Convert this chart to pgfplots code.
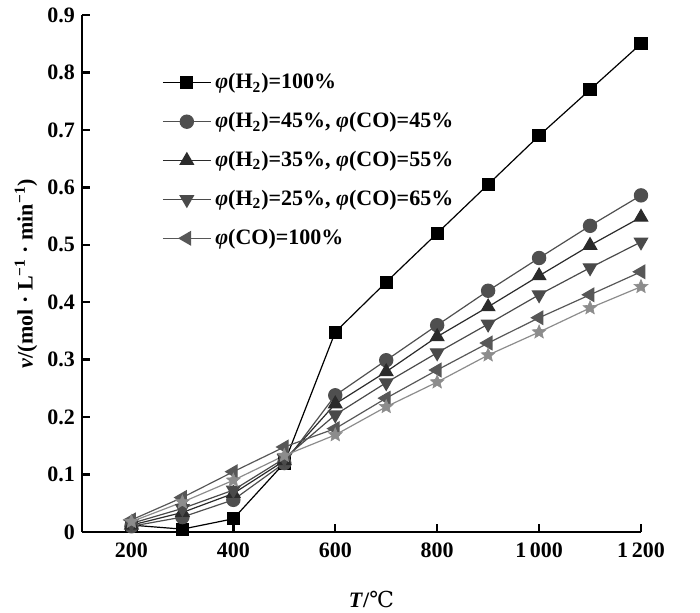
\documentclass[border=0pt]{standalone}
\usepackage{fontspec}
\setmainfont{Liberation Serif}
\newfontfamily\dejavuserif{DejaVu Serif}
\usepackage{pgfplots}
\pgfplotsset{compat=1.18}
\definecolor{cA}{HTML}{000000}
\definecolor{cB}{HTML}{4F4F4F}
\definecolor{cC}{HTML}{2B2B2B}
\definecolor{cD}{HTML}{4A4A4A}
\definecolor{cE}{HTML}{575757}
\definecolor{cF}{HTML}{8C8C8C}
\pgfdeclareplotmark{fstar}{%
  \pgfpathmoveto{\pgfpointpolar{90}{\pgfplotmarksize}}%
  \pgfpathlineto{\pgfpointpolar{126}{0.45\pgfplotmarksize}}%
  \pgfpathlineto{\pgfpointpolar{162}{\pgfplotmarksize}}%
  \pgfpathlineto{\pgfpointpolar{198}{0.45\pgfplotmarksize}}%
  \pgfpathlineto{\pgfpointpolar{234}{\pgfplotmarksize}}%
  \pgfpathlineto{\pgfpointpolar{270}{0.45\pgfplotmarksize}}%
  \pgfpathlineto{\pgfpointpolar{306}{\pgfplotmarksize}}%
  \pgfpathlineto{\pgfpointpolar{342}{0.45\pgfplotmarksize}}%
  \pgfpathlineto{\pgfpointpolar{18}{\pgfplotmarksize}}%
  \pgfpathlineto{\pgfpointpolar{54}{0.45\pgfplotmarksize}}%
  \pgfpathclose
  \pgfusepathqfillstroke
}
\begin{document}
\begin{tikzpicture}
\useasboundingbox (-41pt,-40pt) rectangle (309pt,266pt);
\begin{axis}[
  at={(0,0)}, anchor=south west,
  scale only axis, width=279.5pt, height=258.5pt,
  xmin=103, xmax=1200, ymin=0, ymax=0.9,
  axis lines=left, axis line style={line width=1.2pt,-},
  tick align=inside, major tick length=4pt,
  every tick/.style={line width=1.2pt,black},
  xtick={200,400,600,800,1000,1200},
  xticklabels={200,400,600,800,1\,000,1\,200},
  ytick={0,0.1,0.2,0.3,0.4,0.5,0.6,0.7,0.8,0.9},
  yticklabels={0,0.1,0.2,0.3,0.4,0.5,0.6,0.7,0.8,0.9},
  ticklabel style={font=\fontsize{11}{13}\selectfont\bfseries},
  xticklabel style={yshift=-2pt},
  clip=false,
  xlabel={\textbf{\textit{T}/}{\dejavuserif\mdseries ℃}},
  ylabel={\textbf{\textit{v}/(mol · L\textsuperscript{−1} · min\textsuperscript{−1})}},
  label style={font=\fontsize{11}{13}\selectfont},
  xlabel style={at={(axis description cs:0.5,0)}, anchor=center, yshift=-33.5pt, xshift=5pt},
  ylabel style={at={(axis description cs:0,0.5)}, anchor=center, yshift=28pt},
  legend style={draw=none, fill=none, at={(axis description cs:0.143,0.895)}, anchor=north west,
    font=\fontsize{11}{13}\selectfont\bfseries, row sep=6.3pt, inner sep=0pt},
  legend cell align=left,
  legend image code/.code={\draw[mark repeat=2,mark phase=2] plot coordinates {(0cm,0cm) (0.42cm,0cm) (0.84cm,0cm)};},
]
\addplot[cA, line width=0.6pt, mark=square*, mark size=3pt, mark options={fill=cA,draw=cA}] coordinates {
(200,0.012) (300,0.005) (400,0.023) (500,0.12) (600,0.348) (700,0.435) (800,0.52) (900,0.605) (1000,0.69) (1100,0.77) (1200,0.85)};
\addlegendentry{\textit{φ}(H\textsubscript{2})=100\%}
\addplot[cB, line width=0.6pt, mark=*, mark size=3.3pt, mark options={fill=cB,draw=cB}] coordinates {
(200,0.01) (300,0.026) (400,0.056) (500,0.12) (600,0.238) (700,0.299) (800,0.36) (900,0.42) (1000,0.477) (1100,0.533) (1200,0.586)};
\addlegendentry{\textit{φ}(H\textsubscript{2})=45\%, \textit{φ}(CO)=45\%}
\addplot[cC, line width=0.6pt, mark=triangle*, mark size=3.8pt, mark options={fill=cC,draw=cC}] coordinates {
(200,0.012) (300,0.034) (400,0.067) (500,0.124) (600,0.223) (700,0.279) (800,0.34) (900,0.392) (1000,0.446) (1100,0.499) (1200,0.548)};
\addlegendentry{\textit{φ}(H\textsubscript{2})=35\%, \textit{φ}(CO)=55\%}
\addplot[cD, line width=0.6pt, mark=triangle*, mark size=3.8pt, mark options={fill=cD,draw=cD,rotate=180}] coordinates {
(200,0.015) (300,0.041) (400,0.073) (500,0.128) (600,0.204) (700,0.26) (800,0.312) (900,0.362) (1000,0.413) (1100,0.46) (1200,0.505)};
\addlegendentry{\textit{φ}(H\textsubscript{2})=25\%, \textit{φ}(CO)=65\%}
\addplot[cE, line width=0.6pt, mark=triangle*, mark size=3.8pt, mark options={fill=cE,draw=cE,rotate=90}] coordinates {
(200,0.021) (300,0.06) (400,0.105) (500,0.148) (600,0.18) (700,0.233) (800,0.282) (900,0.329) (1000,0.373) (1100,0.413) (1200,0.453)};
\addlegendentry{\textit{φ}(CO)=100\%}
\addplot[cF, line width=0.6pt, mark=fstar, mark size=3.6pt, mark options={fill=cF,draw=cF,line width=0.3pt}, forget plot] coordinates {
(200,0.018) (300,0.052) (400,0.09) (500,0.133) (600,0.169) (700,0.218) (800,0.261) (900,0.308) (1000,0.348) (1100,0.39) (1200,0.427)};
\end{axis}
\end{tikzpicture}
\end{document}
